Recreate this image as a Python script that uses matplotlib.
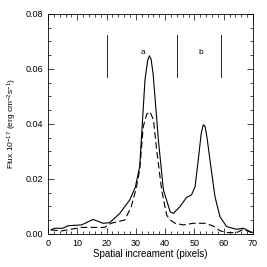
import numpy as np
import matplotlib
matplotlib.use("Agg")
import matplotlib.pyplot as plt
from matplotlib.ticker import MultipleLocator

plt.rcParams['font.family'] = ['Liberation Sans', 'DejaVu Sans']
plt.rcParams['mathtext.default'] = 'regular'

# spatial profiles
x_solid = [1, 2.3, 5.1, 6.8, 11.4, 15.4, 18.8, 21, 24.5, 27.9, 29.8, 31.3, 32.3, 33.1,
           34.0, 34.6, 35.2, 35.9, 37.7, 39.4, 41.7, 42.8, 45, 47.3, 49, 50.2, 51.3,
           52.3, 53.0, 53.6, 54.3, 55.3, 57, 58.7, 61, 64.4, 66.7, 68.9, 70]
flux_solid = [0.0015, 0.0021, 0.0021, 0.003, 0.0033, 0.0053, 0.0039, 0.0041, 0.0075,
              0.0124, 0.017, 0.0245, 0.042, 0.056, 0.063, 0.0648, 0.0635, 0.058, 0.034,
              0.016, 0.0081, 0.0075, 0.0099, 0.0133, 0.0142, 0.0172, 0.0269, 0.0365,
              0.0397, 0.0392, 0.035, 0.0269, 0.0136, 0.0063, 0.0027, 0.0017, 0.0021,
              0.0009, 0.0005]

x_dash = [1, 4.5, 11.4, 19.3, 21.6, 26.2, 28.4, 30.1, 31.3, 32.5, 33.7, 34.8, 36, 37.1,
          38.8, 40.5, 41.7, 43.4, 46.2, 49.6, 53.6, 56.4, 58.7, 61, 64.4, 66.7, 69.5]
flux_dash = [0.0015, 0.0011, 0.0024, 0.0024, 0.0039, 0.0051, 0.0099, 0.0166, 0.0233,
             0.039, 0.0436, 0.0445, 0.0415, 0.0305, 0.016, 0.0069, 0.0051, 0.0039,
             0.0033, 0.0039, 0.0039, 0.0029, 0.0012, 0.0005, 0.0005, 0.0017, 0.0005]

region_edges = [20, 44, 59]
region_labels = ['a', 'b']
region_label_x = [32.4, 52]

fig = plt.figure(figsize=(2.67, 2.67), dpi=100)
ax = fig.add_axes([0.18, 0.1236, 0.7676, 0.824])

ax.plot(x_solid, flux_solid, color='black', lw=0.8)
ax.plot(x_dash, flux_dash, color='black', lw=0.8, linestyle=(0, (6, 3)))

for xe in region_edges:
    ax.plot([xe, xe], [0.0571, 0.0724], color='black', lw=0.6)
for lab, xl in zip(region_labels, region_label_x):
    ax.text(xl, 0.066, lab, fontsize=6, ha='center', va='center')

ax.set_xlim(0, 70)
ax.set_ylim(0, 0.08)
ax.xaxis.set_major_locator(MultipleLocator(10))
ax.xaxis.set_minor_locator(MultipleLocator(2))
ax.yaxis.set_major_locator(MultipleLocator(0.02))
ax.yaxis.set_minor_locator(MultipleLocator(0.005))
ax.yaxis.set_major_formatter(plt.FormatStrFormatter('%.2f'))
ax.tick_params(which='both', direction='in', top=True, right=True, labelsize=6.5,
               width=0.5, colors='black')
ax.tick_params(which='major', length=4)
ax.tick_params(which='minor', length=2)
for s in ax.spines.values():
    s.set_linewidth(0.6)

ax.set_xlabel('Spatial increament (pixels)', fontsize=7, labelpad=1)
ax.set_ylabel('Flux 10$^{-17}$ (erg cm$^{-2}$s$^{-1}$)', fontsize=6, labelpad=5)

fig.savefig('out.png', dpi=100)
